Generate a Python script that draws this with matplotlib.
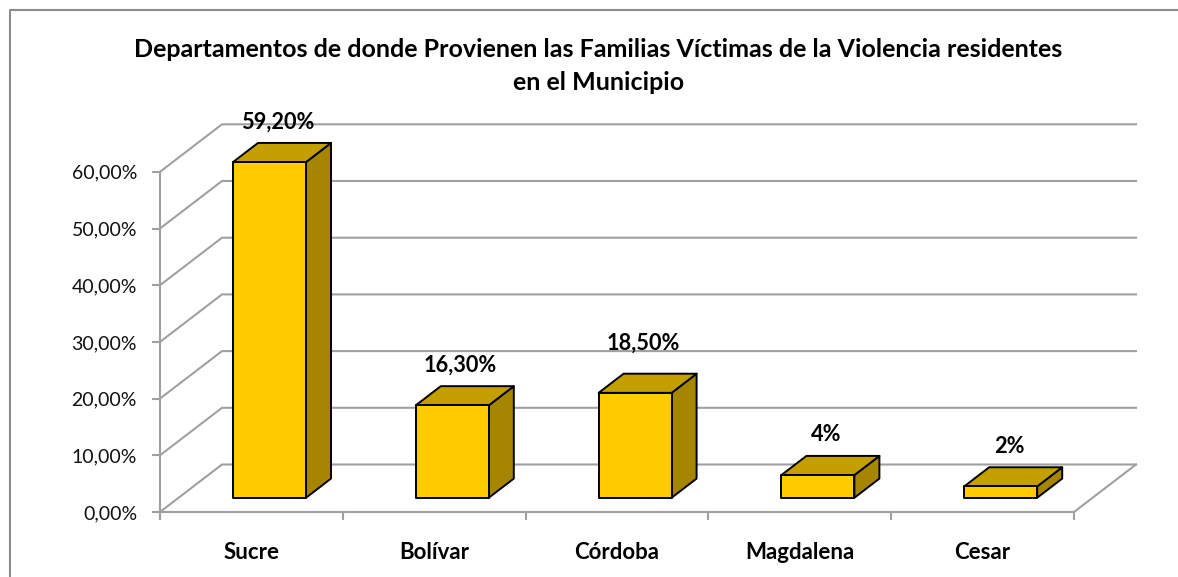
import numpy as np
import matplotlib
matplotlib.use('Agg')
import matplotlib.pyplot as plt

# Datos
departamentos = ['Sucre', 'Bolívar', 'Córdoba', 'Magdalena', 'Cesar']
valores = [59.2, 16.3, 18.5, 4, 2]
etiquetas = ['59,20%', '16,30%', '18,50%', '4%', '2%']
ticks_y = [0, 10, 20, 30, 40, 50, 60]
ticks_y_txt = ['0,00%', '10,00%', '20,00%', '30,00%', '40,00%', '50,00%', '60,00%']
titulo = 'Departamentos de donde Provienen las Familias Víctimas de la Violencia residentes\nen el Municipio'

plt.rcParams['font.family'] = ['Lato', 'DejaVu Sans']

# Escala: una categoria = 182.8 px, 1 % = 5.67 px
PX_CAT = 182.8
PX_PCT = 5.67
X0, Y0 = 160.0, 512.0
W, H = 1178, 577

fig = plt.figure(figsize=(W / 100, H / 100), dpi=100)
ax = fig.add_axes([0, 0, 1, 1])
ax.set_xlim(-X0 / PX_CAT, (W - X0) / PX_CAT)
ax.set_ylim((Y0 - H) / PX_PCT, Y0 / PX_PCT)
ax.axis('off')

# Profundidad de la caja 3D, en unidades de los ejes
DX = 62.0 / PX_CAT
DY = 47.5 / PX_PCT
GRIS = '#a0a0a0'
n = len(departamentos)

# Rejilla: pared del fondo y diagonales de la pared izquierda
for t, txt in zip(ticks_y, ticks_y_txt):
    ax.plot([0, DX, n + DX], [t, t + DY, t + DY], color=GRIS, lw=1.5, zorder=1,
            solid_joinstyle='miter')
    ax.plot([-7 / PX_CAT, 0], [t, t], color=GRIS, lw=1.5, zorder=1)
    ax.text(-23 / PX_CAT, t - 1.5 / PX_PCT, txt, ha='right', va='center',
            fontsize=14, color='#111111')

# Ejes frontales y suelo
ax.plot([0, 0], [0, 60], color=GRIS, lw=1.5, zorder=2)
ax.plot([0, n, n + DX], [0, 0, DY], color=GRIS, lw=1.5, zorder=2)
for i in range(n + 1):
    ax.plot([i, i], [0, -7 / PX_PCT], color=GRIS, lw=1.5, zorder=2)

# Barras
ANCHO = 73.0 / PX_CAT
D_INI = 0.30
D_BAR = 25.0 / 62.0
for i, v in enumerate(valores):
    x1 = i + 0.5 - ANCHO / 2 + D_INI * DX - 0.5 / PX_CAT
    x2 = x1 + ANCHO
    y1 = D_INI * DY
    y2 = y1 + v
    ox = D_BAR * DX
    oy = D_BAR * DY
    estilo = dict(edgecolor='black', lw=1.4, zorder=3, joinstyle='round')
    ax.fill([x2, x2 + ox, x2 + ox, x2], [y1, y1 + oy, y2 + oy, y2], facecolor='#a68600', **estilo)
    ax.fill([x1, x1 + ox, x2 + ox, x2], [y2, y2 + oy, y2 + oy, y2], facecolor='#c49f00', **estilo)
    ax.fill([x1, x2, x2, x1], [y1, y1, y2, y2], facecolor='#ffcc00', **estilo)
    # la etiqueta de Cordoba va un poco mas arriba que las otras
    sube = 35.5 if departamentos[i] == 'Córdoba' else 29
    ax.annotate(etiquetas[i], ((x1 + x2) / 2, y2), xytext=(6, sube), textcoords='offset points',
                ha='center', va='center', fontsize=15.7, fontweight='bold', color='black', zorder=5)
    ax.annotate(departamentos[i], (i + 0.5, 0), xytext=(0, -29.5), textcoords='offset points',
                ha='center', va='center', fontsize=16, fontweight='bold', color='black')

ax.text(598.5 / W, 1 - 66 / H, titulo, transform=ax.transAxes, ha='center', va='center',
        fontsize=18, fontweight='bold', color='black', linespacing=1.5)

# Marco del grafico (solo izquierda y arriba se ven)
ax.plot([10 / W, 10 / W, 1], [0, 1 - 10 / H, 1 - 10 / H], transform=ax.transAxes,
        color='#8c8c8c', lw=1.5, clip_on=False)

fig.savefig('out.png', dpi=100)
